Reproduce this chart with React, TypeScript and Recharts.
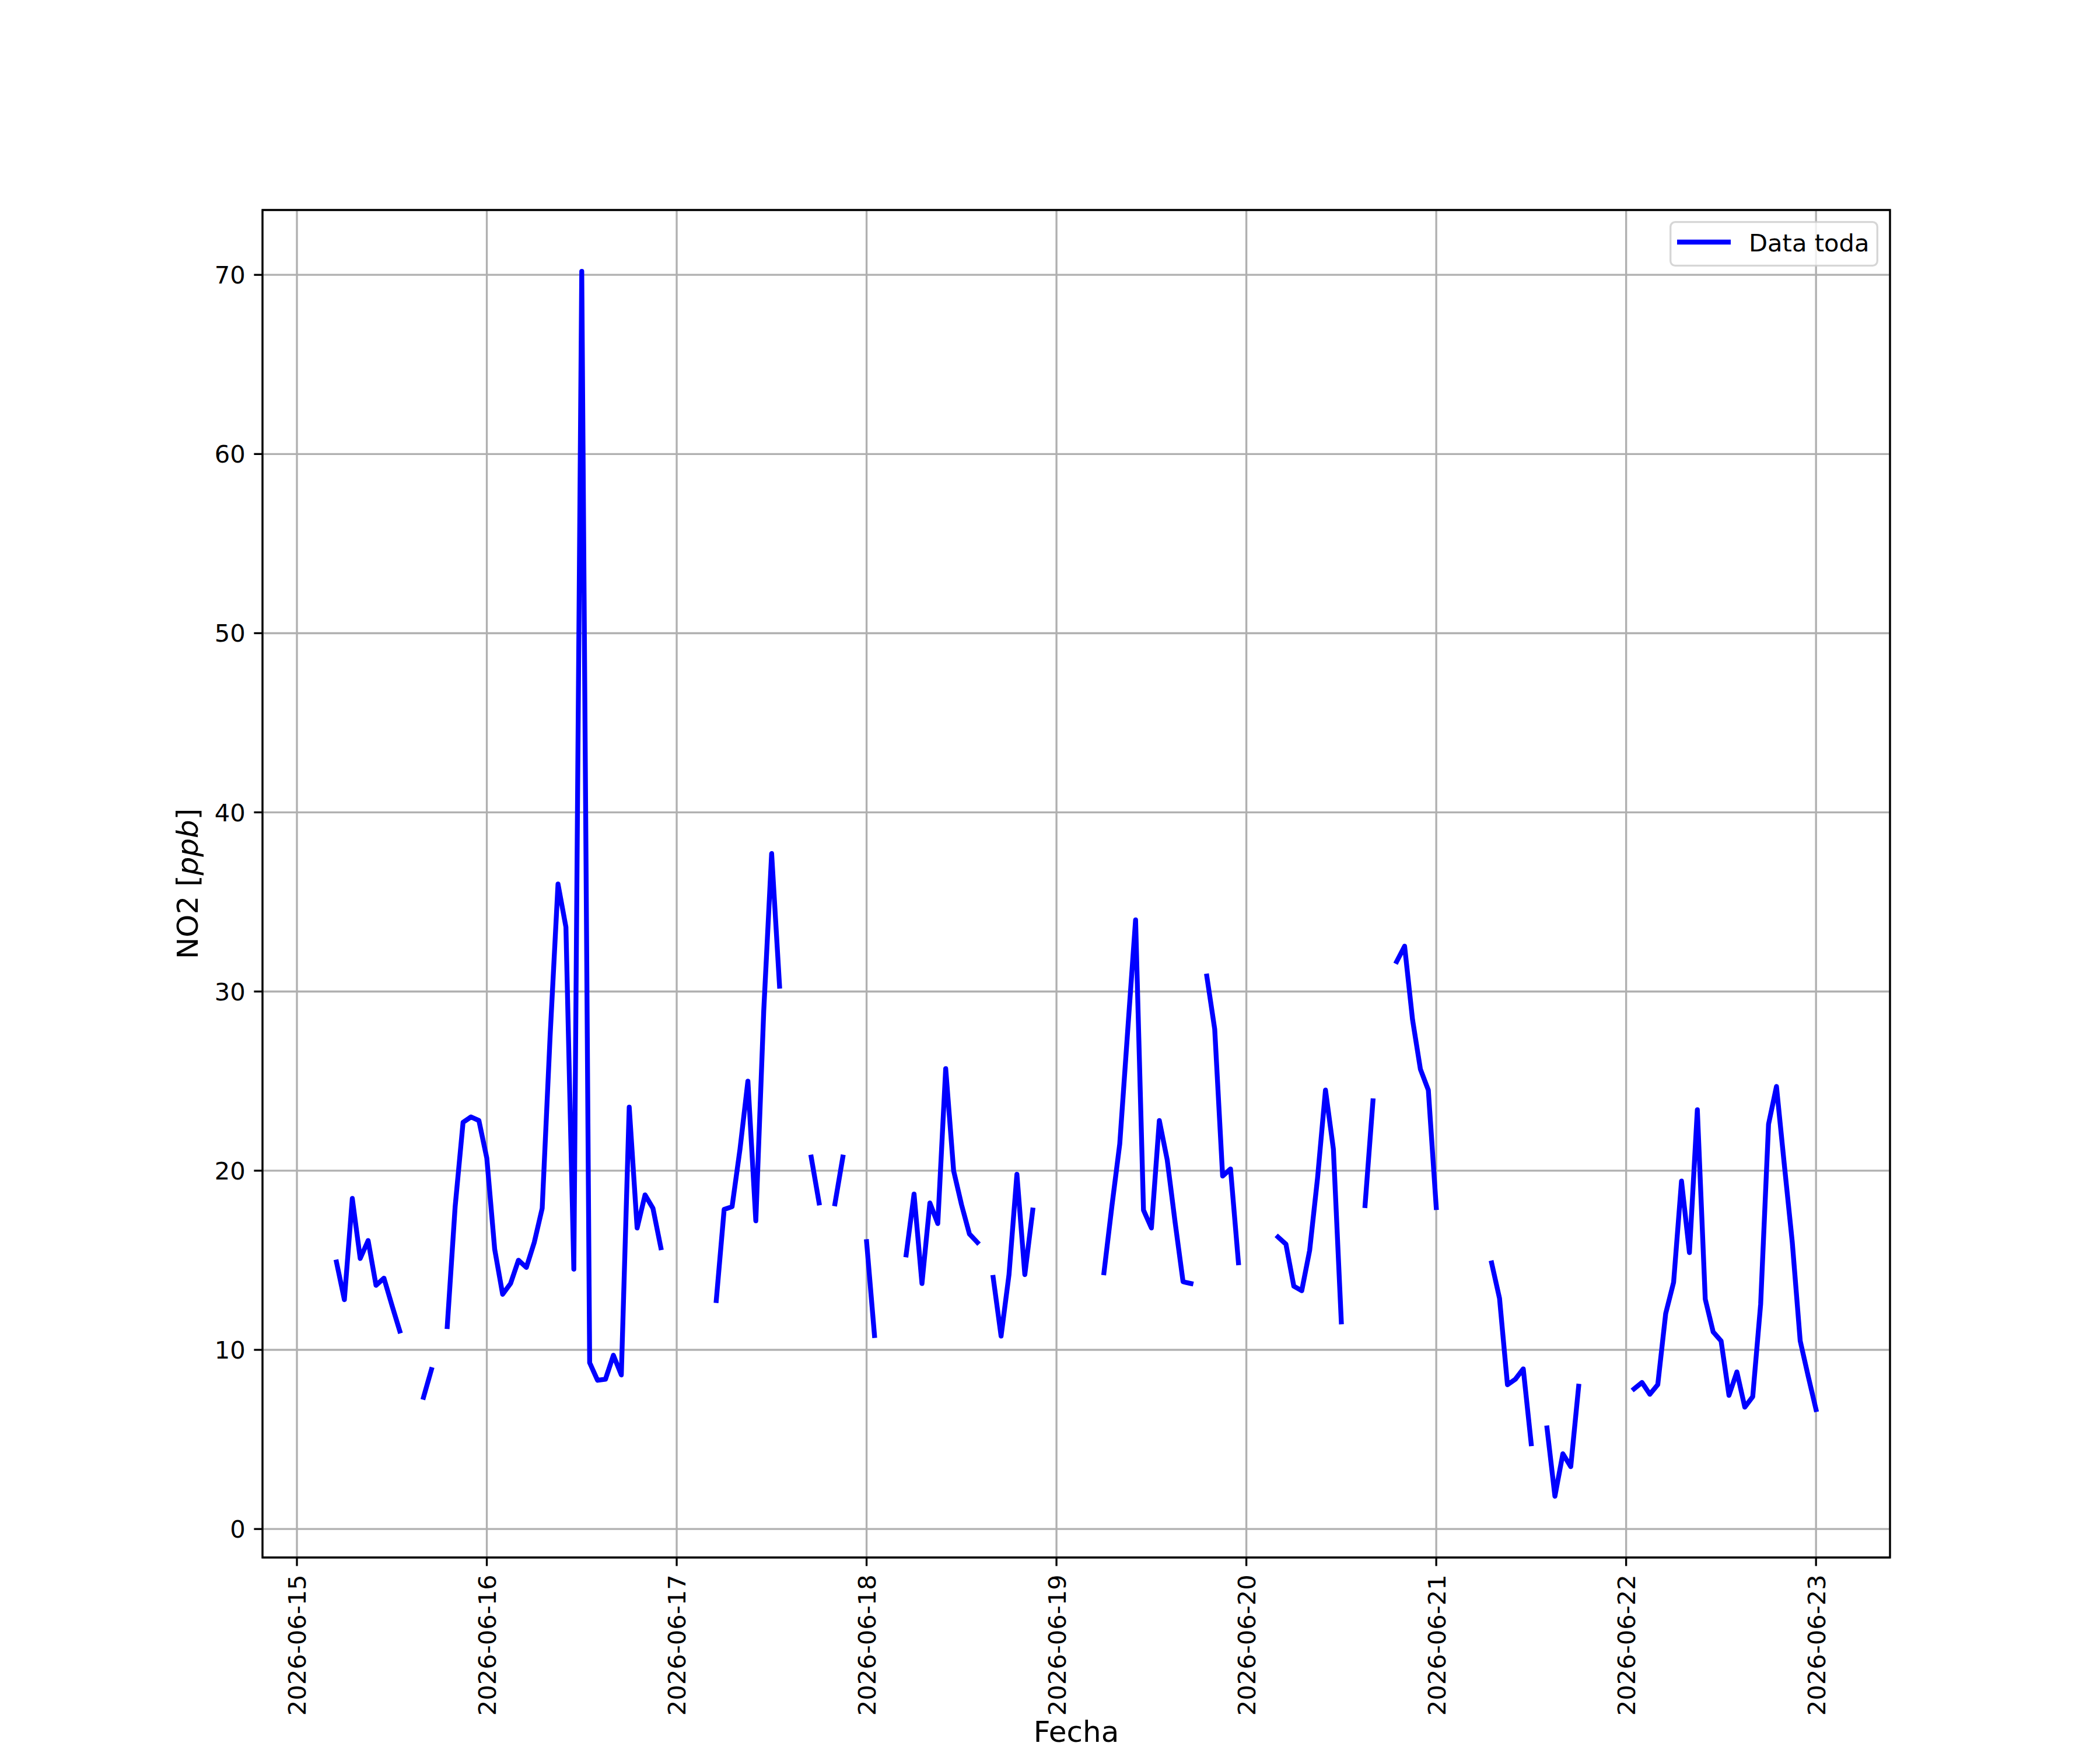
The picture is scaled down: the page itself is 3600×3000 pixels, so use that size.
import React from 'react';
import { LineChart, Line, XAxis, YAxis, CartesianGrid, ReferenceArea, Legend } from 'recharts';

// Day tick labels (one tick per day, 00:00)
const DAY_LABELS = [
  '2026-06-15', '2026-06-16', '2026-06-17', '2026-06-18', '2026-06-19',
  '2026-06-20', '2026-06-21', '2026-06-22', '2026-06-23',
];

// Hourly NO2 [ppb] values, 00:00 .. 23:00 per day (null = missing)
const NO2_0615 = [null, null, null, null, null, 14.9, 12.8, 18.45, 15.1, 16.1, 13.6, 14.0, 12.5, 11.05, null, null, 7.35, 8.9, null, 11.3, 18.0, 22.7, 23.0, 22.8];
const NO2_0616 = [20.7, 15.6, 13.1, 13.7, 15.0, 14.6, 16.0, 17.9, 27.5, 36.0, 33.6, 14.5, 70.2, 9.28, 8.3, 8.36, 9.7, 8.6, 23.55, 16.8, 18.65, 17.9, 15.7, null];
const NO2_0617 = [null, null, null, null, null, 12.75, 17.84, 17.99, 21.2, 25.0, 17.2, 28.9, 37.7, 30.3, null, null, null, 20.76, 18.2, null, 18.15, 20.76, null, null];
const NO2_0618 = [16.04, 10.8, null, null, null, 15.3, 18.7, 13.7, 18.2, 17.05, 25.7, 20.0, 18.1, 16.47, 16.0, null, 14.04, 10.77, 14.2, 19.8, 14.2, 17.8, null, null];
const NO2_0619 = [null, null, null, null, null, null, 14.3, 18.0, 21.5, 27.8, 34.0, 17.8, 16.8, 22.8, 20.6, 17.1, 13.8, 13.7, null, 30.86, 27.9, 19.7, 20.1, 14.86];
const NO2_0620 = [null, null, null, null, 16.3, 15.9, 13.55, 13.3, 15.55, 19.6, 24.5, 21.2, 11.56, null, null, 18.05, 23.9, null, null, 31.67, 32.53, 28.44, 25.66, 24.5];
const NO2_0621 = [17.94, null, null, null, null, null, null, 14.85, 12.87, 8.05, 8.36, 8.94, 4.76, null, 5.64, 1.83, 4.2, 3.48, 7.97, null, null, null, null, null];
const NO2_0622 = [null, 7.82, 8.18, 7.52, 8.06, 12.03, 13.77, 19.42, 15.43, 23.4, 12.83, 11.0, 10.5, 7.46, 8.77, 6.8, 7.39, 12.54, 22.6, 24.7, 20.3, 16.0, 10.5, 8.55];
const NO2_0623 = [6.67];

const DAYS = [NO2_0615, NO2_0616, NO2_0617, NO2_0618, NO2_0619, NO2_0620, NO2_0621, NO2_0622, NO2_0623];

const Y_TICKS = [0, 10, 20, 30, 40, 50, 60, 70];
const X_TICKS = DAY_LABELS.map((_, i) => i * 24);

// table for the library: t = hours since 2026-06-15 00:00
const DATA = DAYS.flatMap((vals, d) => vals.map((v, h) => ({ t: d * 24 + h, v })));

const FONT = 'DejaVu Sans';
const TICK_FS = 41.67;
const LABEL_FS = 50;
const LW = 3.33;
const SERIES_W = 8.33;

const XTick = (props: any) => {
  const { x, y, payload } = props;
  return (
    <text x={x} y={y} transform={`rotate(-90 ${x} ${y})`} textAnchor="end" dy="0.37em"
      fontSize={TICK_FS} fontFamily={FONT} fill="#000">
      {DAY_LABELS[Math.round(payload.value / 24)]}
    </text>
  );
};

const YTick = (props: any) => {
  const { x, y, payload } = props;
  return (
    <text x={x} y={y} textAnchor="end" dy="0.36em" fontSize={TICK_FS} fontFamily={FONT} fill="#000">
      {payload.value}
    </text>
  );
};

const YLabel = () => (
  <text x={339} y={1515} transform="rotate(-90 339 1515)" textAnchor="middle"
    fontSize={LABEL_FS} fontFamily={FONT} fill="#000">
    NO2 [<tspan fontStyle="italic">ppb</tspan>]
  </text>
);

const XLabel = () => (
  <text x={1845} y={2986} textAnchor="middle" fontSize={LABEL_FS} fontFamily={FONT} fill="#000">
    Fecha
  </text>
);

const LegendBox = () => (
  <svg width={358} height={78} style={{ display: 'block' }}>
    <rect x={1.7} y={1.7} width={354.6} height={74.6} rx={8} ry={8}
      fill="rgba(255,255,255,0.8)" stroke="rgba(204,204,204,0.8)" strokeWidth={LW} />
    <line x1={13} y1={36} x2={105} y2={36} stroke="#0000ff" strokeWidth={SERIES_W} strokeLinecap="butt" />
    <text x={136} y={52} fontSize={TICK_FS} fontFamily={FONT} fill="#000">Data toda</text>
  </svg>
);

export default function App() {
  return (
    <div style={{ position: 'absolute', left: 0, top: 0, width: 3600, height: 3000, background: '#fff' }}>
      <LineChart width={3600} height={3000} data={DATA}
        margin={{ top: 360, right: 360, bottom: 0, left: 0 }}>
        <CartesianGrid stroke="#b0b0b0" strokeWidth={LW} />
        <XAxis type="number" dataKey="t" domain={[-4.35, 201.35]} allowDataOverflow
          ticks={X_TICKS} interval={0} height={330}
          axisLine={false} tickLine={{ stroke: '#000', strokeWidth: LW }}
          tickSize={14.6} tickMargin={14.6} tick={<XTick />} label={<XLabel />} />
        <YAxis type="number" domain={[-1.59, 73.62]} allowDataOverflow
          ticks={Y_TICKS} interval={0} width={450}
          axisLine={false} tickLine={{ stroke: '#000', strokeWidth: LW }}
          tickSize={14.6} tickMargin={14.6} tick={<YTick />} label={<YLabel />} />
        <Line type="linear" dataKey="v" name="Data toda" stroke="#0000ff" strokeWidth={SERIES_W}
          dot={false} activeDot={false} connectNulls={false} isAnimationActive={false}
          strokeLinecap="square" strokeLinejoin="round" />
        <ReferenceArea x1={-4.35} x2={201.35} y1={-1.59} y2={73.62} ifOverflow="visible"
          fill="none" fillOpacity={0} stroke="#000" strokeWidth={LW} />
        <Legend layout="vertical" align="center" verticalAlign="middle" content={<LegendBox />}
          wrapperStyle={{ left: 2862, top: 379, width: 358, height: 78 }} />
      </LineChart>
    </div>
  );
}
